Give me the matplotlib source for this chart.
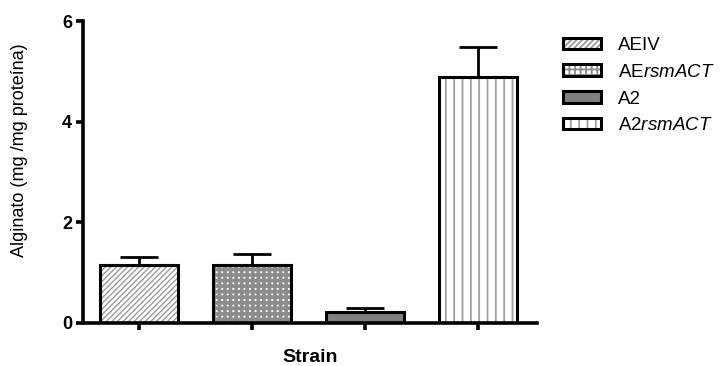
import matplotlib
matplotlib.use("Agg")
import matplotlib.pyplot as plt
from matplotlib.patches import Patch

strains = ["AEIV", "AE$\\it{rsmACT}$", "A2", "A2$\\it{rsmACT}$"]
alginate = [1.15, 1.15, 0.22, 4.89]
sem = [0.16, 0.22, 0.08, 0.60]
yticks = [0, 2, 4, 6]

# fill style of each strain: (facecolor, hatch, hatch colour, hatch width)
styles = [
    ("white", "//////", "#9a9a9a", 1.0),
    ("white", "+++", "#8c8c8c", 2.6),
    ("#808080", None, "black", 1.0),
    ("white", "||", "#a0a0a0", 1.3),
]

plt.rcParams["font.family"] = ["Liberation Sans", "DejaVu Sans"]
plt.rcParams["mathtext.fontset"] = "custom"
plt.rcParams["mathtext.rm"] = "Liberation Sans"
plt.rcParams["mathtext.it"] = "Liberation Sans:italic"

fig = plt.figure(figsize=(7.22, 3.66), dpi=100)
ax = fig.add_axes([0.115, 0.1175, 0.629, 0.825])

x = list(range(len(strains)))
width = 0.69
handles = []
for xi, val, (fc, hatch, hc, hlw) in zip(x, alginate, styles):
    plt.rcParams["hatch.linewidth"] = hlw
    ax.bar(xi, val, width, color=fc, edgecolor=hc, hatch=hatch, linewidth=0, zorder=2)
    ax.bar(xi, val, width, fill=False, edgecolor="black", linewidth=2.2, zorder=3)
    fill = Patch(facecolor=fc, edgecolor=hc, hatch=hatch, linewidth=0)
    edge = Patch(fill=False, edgecolor="black", linewidth=2.2)
    handles.append((fill, edge))

ax.errorbar(x, alginate, yerr=[[0] * len(sem), sem], fmt="none", ecolor="black",
            elinewidth=2, capsize=14, capthick=2, zorder=4)

ax.set_xlim(-0.496, 3.52)
ax.set_ylim(0, 6)
ax.set_yticks(yticks)
ax.set_xticks(x)
ax.set_xticklabels([])
for side in ("top", "right"):
    ax.spines[side].set_visible(False)
for side in ("left", "bottom"):
    ax.spines[side].set_linewidth(2.6)
ax.tick_params(axis="y", length=5, width=2.6, labelsize=13, pad=3)
ax.tick_params(axis="x", length=5, width=2.6)
for lab in ax.get_yticklabels():
    lab.set_fontweight("bold")

ax.set_ylabel("Alginato (mg /mg proteína)", fontsize=13)
ax.yaxis.set_label_coords(-0.121, 0.573)
ax.set_xlabel("Strain", fontsize=14, fontweight="bold", labelpad=10)

fig.legend(handles, strains, loc="upper left", bbox_to_anchor=(0.757, 0.945),
           frameon=False, fontsize=13.5, handlelength=2.0, handleheight=0.55,
           labelspacing=0.52, handletextpad=0.9)

fig.savefig("out.png", dpi=100)
